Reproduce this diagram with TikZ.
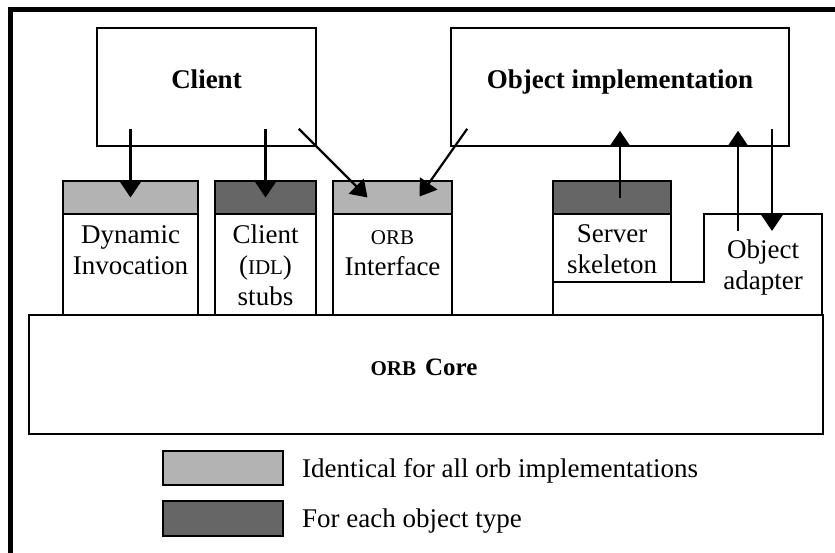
\documentclass[tikz,border=0pt]{standalone}
\usepackage{fontspec}
\setmainfont{Liberation Serif}
\usetikzlibrary{arrows.meta,calc}
\definecolor{lightg}{HTML}{B3B3B3}
\definecolor{darkg}{HTML}{666666}
\newcommand\smcap[2][21]{{\fontsize{#1}{#1}\selectfont #2}}
\begin{document}
\begin{tikzpicture}[x=1pt,y=-1pt,
  box/.style={draw,line width=1.6pt,inner sep=0pt,fill=white},
  hdrlight/.style={box,fill=lightg},
  hdrdark/.style={box,fill=darkg},
  lbl/.style={inner sep=0pt,align=center,anchor=north,font=\fontsize{27}{31}\selectfont},
  bold/.style={inner sep=0pt,anchor=base,font=\fontsize{27}{32}\selectfont\bfseries},
  leg/.style={inner sep=0pt,anchor=base west,font=\fontsize{27}{31}\selectfont},
  arr/.style={line width=2.2pt,-{Triangle[width=21pt,length=16pt]}}]
\useasboundingbox (0,0) rectangle (835,552);
\fill[white] (0,0) rectangle (835,552);
% outer frame (clipped on right and bottom)
\draw[line width=4.5pt] (10.5,600) -- (10.5,9.5) -- (900,9.5);

% top boxes
\node[box,minimum width=219,minimum height=118] (cl) at (206.5,87) {};
\node[box,minimum width=338,minimum height=118] (oi) at (620,87) {};
\node[bold] (tcl) at (206.5,88) {Client};
\node[bold] (toi) at (620,88) {Object implementation};

% core
\node[box,minimum width=794,minimum height=119] (core) at (426,374.5) {};
\node[inner sep=0pt,anchor=base,font=\bfseries] (tcore) at (424,375)
  {\smcap[21]{ORB}\hspace{9pt}{\fontsize{25}{30}\selectfont Core}};

% object adapter outline
\coordinate (adtl) at (704,214);
\draw[line width=1.6pt] (553,315) |- (704,282) |- (822,214) -- (822,315);

% components: headers and bodies
\node[box,minimum width=135,minimum height=101] (dynb) at (130.5,264.5) {};
\node[hdrlight,minimum width=135,minimum height=33] (dynh) at (130.5,197.5) {};
\node[box,minimum width=101,minimum height=101] (stubb) at (265.5,264.5) {};
\node[hdrdark,minimum width=101,minimum height=33] (stubh) at (265.5,197.5) {};
\node[box,minimum width=119,minimum height=101] (orbb) at (392.5,264.5) {};
\node[hdrlight,minimum width=119,minimum height=33] (orbh) at (392.5,197.5) {};
\node[box,minimum width=118,minimum height=68] (skelb) at (612,248) {};
\node[hdrdark,minimum width=118,minimum height=33] (skelh) at (612,197.5) {};

% component labels
\node[lbl] (tdyn) at (130.5,223) {\rule{0pt}{20pt}Dynamic\\Invocation};
\node[lbl] (tstub) at (265.5,223) {\rule{0pt}{20pt}Client\\(\smcap{IDL})\\stubs};
\node[lbl] (torb) at (392.5,224) {\rule{0pt}{20pt}\smcap{ORB}\\Interface};
\node[lbl] (tskel) at (612,222) {\rule{0pt}{20pt}Server\\skeleton};
\node[lbl] (tad) at (763,238) {\rule{0pt}{20pt}Object\\adapter};

% arrows
\draw[arr] ($(dynh.center |- cl.south)+(0,-18)$) -- (dynh.center);
\draw[arr] ($(stubh.center |- cl.south)+(0,-18)$) -- (stubh.center);
\draw[arr] ($(cl.south east)+(-18,-18)$) -- ($(orbh.center)+(-25,0)$);
\draw[arr] ($(oi.south west)+(17,-18)$) -- ($(orbh.center)+(27,-1)$);
\draw[arr] ($(skelh.center)+(8,0)$) -- ($(skelh.center |- oi.south)+(8,-16)$);
\draw[arr] ($(adtl)+(34,17)$) -- ($(adtl |- oi.south)+(34,-16)$);
\draw[arr] ($(adtl |- oi.south)+(68,-18)$) -- ($(adtl)+(68,17)$);

% legend
\node[hdrlight,line width=2pt,minimum width=120,minimum height=34] (leg1) at (223,468) {};
\node[hdrdark,line width=2pt,minimum width=120,minimum height=35] (leg2) at (223,518.5) {};
\node[leg] (tleg1) at (302,477) {Identical for all orb implementations};
\node[leg] (tleg2) at (302,527) {For each object type};
\end{tikzpicture}
\end{document}
